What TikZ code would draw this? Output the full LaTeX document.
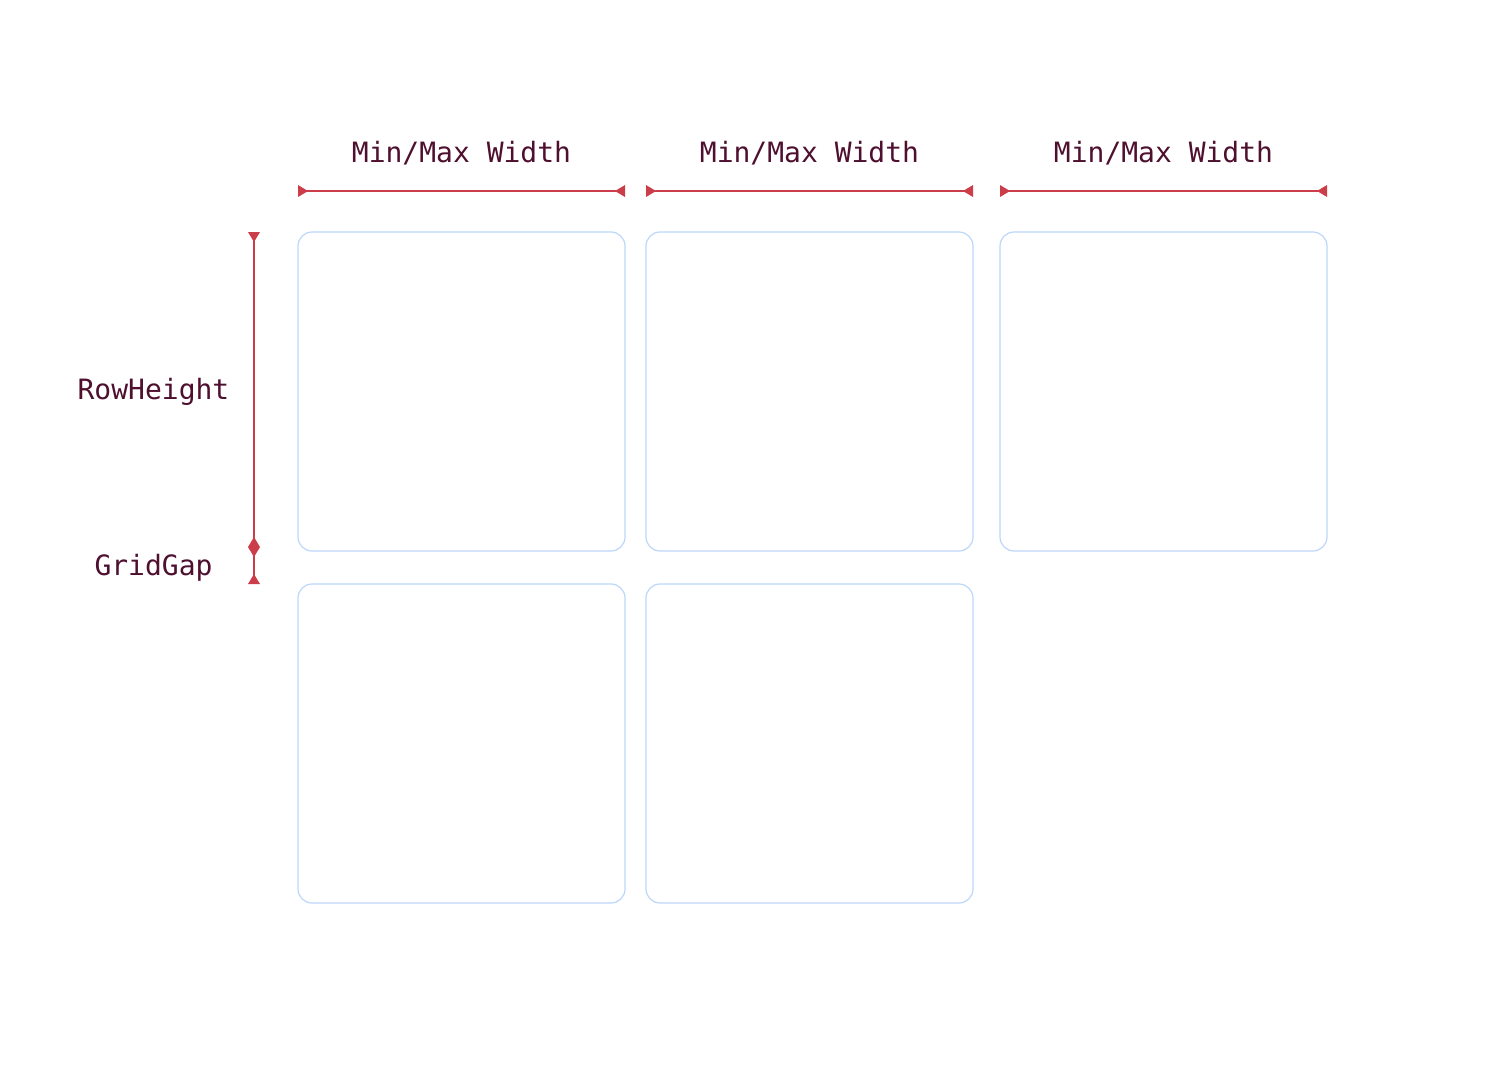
\documentclass[tikz,border=0pt]{standalone}
\usepackage{fontspec}
\setmonofont{DejaVu Sans Mono}
\definecolor{txt}{HTML}{4F1030}
\definecolor{dimred}{HTML}{CC3D4A}
\definecolor{cellborder}{HTML}{BDD6FB}
\tikzset{
  cell/.style={draw=cellborder, line width=0.6pt, rounded corners=7pt, fill=white},
  dimline/.style={draw=dimred, line width=1pt},
  tipfill/.style={fill=dimred, draw=none},
  lbl/.style={text=txt, font=\ttfamily\fontsize{14pt}{16pt}\selectfont, inner sep=0pt, anchor=base}
}
\begin{document}
\begin{tikzpicture}[x=0.5pt,y=-0.5pt]
\useasboundingbox (0,0) rectangle (1512,1072);
% cells
\draw[cell] (298,232) rectangle (625,551);
\draw[cell] (646,232) rectangle (973,551);
\draw[cell] (1000,232) rectangle (1327,551);
\draw[cell] (298,584) rectangle (625,903);
\draw[cell] (646,584) rectangle (973,903);
% column labels
\node[lbl] (w1) at (461.5,162.5) {Min/Max Width};
\node[lbl] (w2) at (809.5,162.5) {Min/Max Width};
\node[lbl] (w3) at (1163.5,162.5) {Min/Max Width};
% horizontal dimension lines
\foreach \a/\b in {298/625, 646/973, 1000/1327}{
  \coordinate (hs) at (\a,191);
  \coordinate (he) at (\b,191);
  \draw[dimline] (hs) -- (he);
  \fill[tipfill] (hs) ++(0,-6) -- ++(10,6) -- ++(-10,6) -- cycle;
  \fill[tipfill] (he) ++(0,-6) -- ++(-10,6) -- ++(10,6) -- cycle;
}
% vertical dimension line
\coordinate (vt) at (254,232);
\coordinate (vm) at (254,547);
\coordinate (vb) at (254,584);
\draw[dimline] (vt) -- (vb);
\fill[tipfill] (vt) ++(-6,0) -- ++(6,10) -- ++(6,-10) -- cycle;
\fill[tipfill] (vm) ++(0,-10) -- ++(6,10) -- ++(-6,10) -- ++(-6,-10) -- cycle;
\fill[tipfill] (vb) ++(-6,0) -- ++(6,-10) -- ++(6,10) -- cycle;
% row labels
\node[lbl] (rh) at (153.5,399.5) {RowHeight};
\node[lbl] (gg) at (153.5,575.5) {GridGap};
\end{tikzpicture}
\end{document}
